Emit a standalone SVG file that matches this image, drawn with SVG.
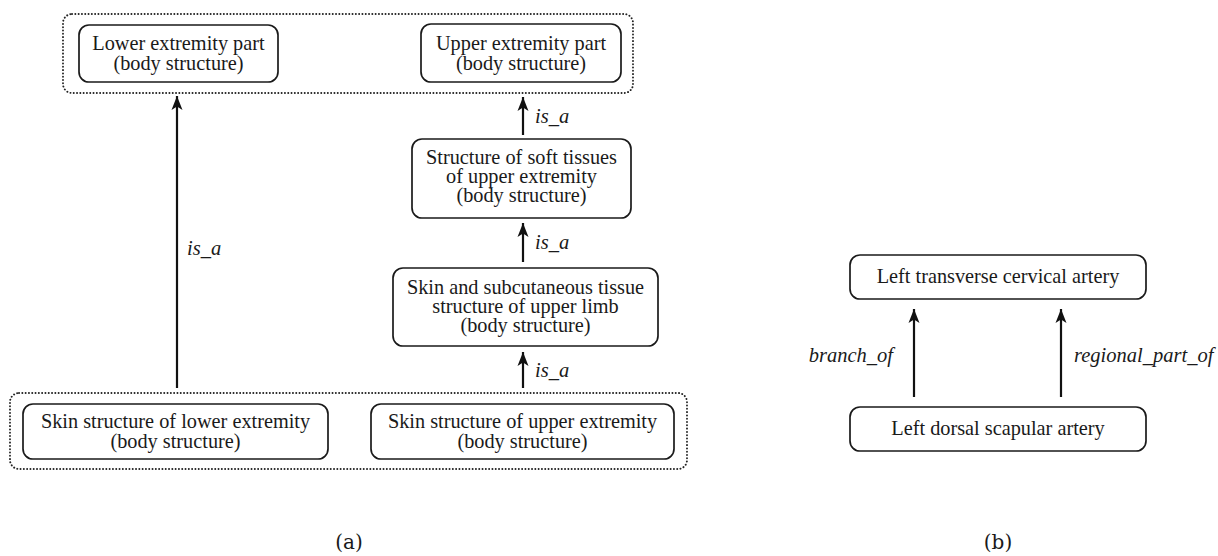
<svg xmlns="http://www.w3.org/2000/svg" width="1218" height="556" viewBox="0 0 1218 556">
<style>
.box{fill:#fff;stroke:#1a1a1a;stroke-width:1.7}
.grp{fill:none;stroke:#222;stroke-width:1.9;stroke-dasharray:0.1 3.2;stroke-linecap:round}
.t{font-family:"Liberation Serif","Times New Roman",serif;font-size:20.3px;fill:#1a1a1a;text-anchor:middle}
.lbl{font-family:"Liberation Serif","Times New Roman",serif;font-size:20.5px;font-style:italic;fill:#1a1a1a}
.cap{font-family:"DejaVu Serif","Liberation Serif",serif;font-size:20px;fill:#1a1a1a;text-anchor:middle}
.edge{stroke:#111;stroke-width:2.2;fill:none;marker-end:url(#ah)}
</style>
<defs>
<marker id="ah" markerUnits="userSpaceOnUse" markerWidth="16" markerHeight="14" viewBox="-15 -7 16 14" refX="0" refY="0" orient="auto">
<path d="M0,0 L-14,-5.5 L-10.5,0 L-14,5.5 Z" fill="#111"/>
</marker>
</defs>
<rect width="1218" height="556" fill="#fff"/>
<g id="group-top"><rect class="grp" x="63" y="14" width="570" height="79" rx="9"/></g>
<g id="group-bottom"><rect class="grp" x="10" y="393" width="677" height="76" rx="9"/></g>
<g id="connectors">
<line class="edge" x1="177" y1="388" x2="177" y2="96"/>
<line class="edge" x1="523" y1="135" x2="523" y2="97"/>
<line class="edge" x1="523" y1="262" x2="523" y2="223"/>
<line class="edge" x1="523" y1="388" x2="523" y2="352"/>
<line class="edge" x1="914" y1="397" x2="914" y2="309"/>
<line class="edge" x1="1061" y1="397" x2="1061" y2="309"/>
<text class="lbl" x="187" y="255">is_a</text>
<text class="lbl" x="535" y="123">is_a</text>
<text class="lbl" x="535" y="249">is_a</text>
<text class="lbl" x="535" y="377">is_a</text>
<text class="lbl" x="893" y="362" text-anchor="end">branch_of</text>
<text class="lbl" x="1074" y="362">regional_part_of</text>
</g>
<g id="lower-extremity-part">
<rect class="box" x="79" y="25" width="199" height="57" rx="10"/>
<text class="t" x="178.5" y="50">Lower extremity part</text>
<text class="t" x="178.5" y="70">(body structure)</text>
</g>
<g id="upper-extremity-part">
<rect class="box" x="421" y="24" width="200" height="58" rx="10"/>
<text class="t" x="521" y="50">Upper extremity part</text>
<text class="t" x="521" y="70">(body structure)</text>
</g>
<g id="soft-tissues">
<rect class="box" x="412" y="139" width="219" height="79" rx="10"/>
<text class="t" x="521.5" y="164">Structure of soft tissues</text>
<text class="t" x="521.5" y="183">of upper extremity</text>
<text class="t" x="521.5" y="202">(body structure)</text>
</g>
<g id="skin-subcutaneous">
<rect class="box" x="393" y="268" width="265" height="78" rx="10"/>
<text class="t" x="525.5" y="294">Skin and subcutaneous tissue</text>
<text class="t" x="525.5" y="313">structure of upper limb</text>
<text class="t" x="525.5" y="332">(body structure)</text>
</g>
<g id="skin-lower">
<rect class="box" x="23" y="404" width="305" height="55" rx="10"/>
<text class="t" x="175.5" y="428">Skin structure of lower extremity</text>
<text class="t" x="175.5" y="448">(body structure)</text>
</g>
<g id="skin-upper">
<rect class="box" x="371" y="404" width="303" height="55" rx="10"/>
<text class="t" x="522.5" y="428">Skin structure of upper extremity</text>
<text class="t" x="522.5" y="448">(body structure)</text>
</g>
<g id="left-transverse-cervical">
<rect class="box" x="850" y="255" width="296" height="44" rx="10"/>
<text class="t" x="998" y="283">Left transverse cervical artery</text>
</g>
<g id="left-dorsal-scapular">
<rect class="box" x="850" y="407" width="296" height="44" rx="10"/>
<text class="t" x="998" y="435">Left dorsal scapular artery</text>
</g>
<text class="cap" x="349" y="549">(a)</text>
<text class="cap" x="998" y="549">(b)</text>
</svg>
